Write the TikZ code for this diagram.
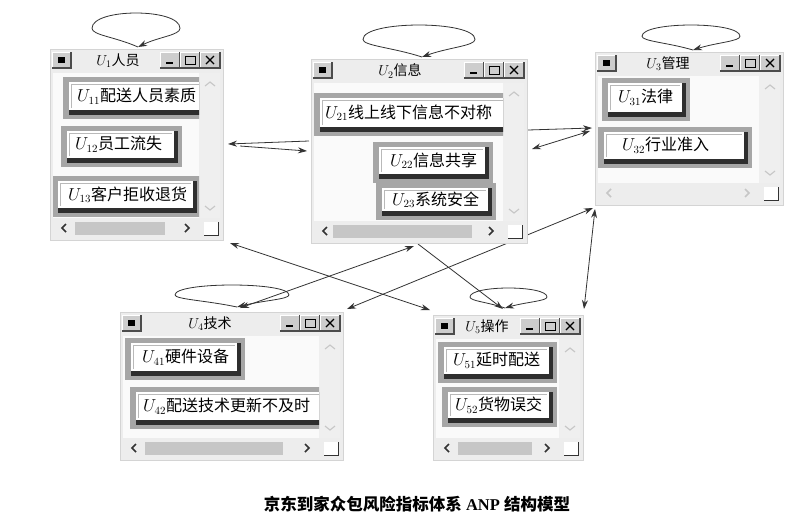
\documentclass[tikz,border=0pt]{standalone}
\usepackage{fontspec}
\setmainfont{Liberation Serif}
\newfontfamily\cjk{Noto Sans CJK SC}
\usetikzlibrary{arrows.meta,calc}
\definecolor{winbg}{HTML}{EDEDED}
\definecolor{winedge}{HTML}{D4D4D4}
\definecolor{contentbg}{HTML}{FAFAFA}
\definecolor{stripbg}{HTML}{EFEFEF}
\definecolor{thumbcol}{HTML}{C6C6C6}
\definecolor{btnframe}{HTML}{A6A6A6}
\definecolor{shadowcol}{HTML}{2E2E2E}
\definecolor{tbtncol}{HTML}{CDCDCD}
\definecolor{conncol}{HTML}{333333}
\tikzset{
  conn/.style={draw=conncol, line width=0.8pt},
  dbl/.style={conn, {Stealth[length=9pt,width=6pt]}-{Stealth[length=9pt,width=6pt]}},
  sgl/.style={conn, -{Stealth[length=9pt,width=6pt]}},
  btntext/.style={inner sep=0pt, anchor=west, font=\fontsize{16}{18}\selectfont},
  titletext/.style={inner sep=0pt, font=\fontsize{14}{16}\selectfont},
}
% 3D title-bar button
\newcommand\tbtn[4]{%
  \fill[tbtncol] (#1,#2) rectangle (#3,#4);
  \draw[white, line width=0.8pt] (#1,#4) -- (#1,#2) -- (#3,#2);
  \draw[black!70, line width=1.2pt] (#1,#4) -- (#3,#4) -- (#3,#2);}
% window: name x0 y0 x1 y1 titlecx title arrowcolour
\newcommand\mywin[8]{%
  \filldraw[draw=winedge, fill=winbg] (#2,#3) rectangle (#4,#5);
  \tbtn{#2+2}{#3+3}{#2+21}{#3+19}
  \fill[black] (#2+8,#3+8) rectangle (#2+15,#3+14);
  \node[titletext] (#1t) at (#6,#3+12) {#7};
  \tbtn{#4-63}{#3+3}{#4-43}{#3+19}
  \draw[black, line width=1.4pt] (#4-57,#3+14) -- (#4-50,#3+14);
  \tbtn{#4-43}{#3+3}{#4-23}{#3+19}
  \draw[black, line width=0.9pt] (#4-38,#3+7) rectangle (#4-28,#3+15);
  \tbtn{#4-23}{#3+3}{#4-3}{#3+19}
  \draw[black, line width=1.1pt] (#4-17,#3+7) -- (#4-9,#3+15) (#4-17,#3+15) -- (#4-9,#3+7);
  \fill[contentbg] (#2+3,#3+24) rectangle (#4-24,#5-22);
  \fill[stripbg] (#4-24,#3+24) rectangle (#4-3,#5-22);
  \draw[gray!45, line width=1.1pt] (#4-18,#3+37) -- (#4-13,#3+33) -- (#4-8,#3+37);
  \draw[gray!45, line width=1.1pt] (#4-18,#5-34) -- (#4-13,#5-30) -- (#4-8,#5-34);
  \draw[#8, line width=1.5pt] (#2+16,#5-16) -- (#2+12,#5-12) -- (#2+16,#5-8);
  \draw[#8, line width=1.5pt] (#4-38,#5-16) -- (#4-34,#5-12) -- (#4-38,#5-8);
  \fill[white] (#4-19,#5-18) rectangle (#4-5,#5-5);
  \draw[black!80, line width=1pt] (#4-19,#5-5) -- (#4-5,#5-5) -- (#4-5,#5-18);}
% element button: name ox0 oy0 ox1 oy1 textx label
\newcommand\mybtn[7]{%
  \fill[btnframe] (#2,#3) rectangle (#4,#5);
  \fill[shadowcol] (#2+6,#3+5) rectangle (#4-4,#5-4);
  \fill[white] (#2+6,#3+5) rectangle (#4-8,#5-9);
  \draw[gray!55, line width=0.7pt] (#2+8,#5-11) -- (#2+8,#3+7) -- (#4-10,#3+7);
  \node[btntext] (#1) at (#6,{(#3+#5-4)/2}) {#7};}
% self loop: name tipx tipy leftw rightw height
\newcommand\selfloop[6]{%
  \coordinate (#1) at (#2,#3);
  \coordinate (#1L) at (#2-#4,#3-0.55*#6);
  \coordinate (#1R) at (#2+#5,#3-0.55*#6);
  \draw[sgl] (#1) .. controls ($(#1)+(-0.5*#4,-0.3*#6)$) and ($(#1L)+(0,0.2*#6)$) .. (#1L)
    .. controls ($(#1L)+(0,-0.6*#6)$) and ($(#1R)+(0,-0.6*#6)$) .. (#1R)
    .. controls ($(#1R)+(0,0.2*#6)$) and ($(#1)+(0.5*#5,-0.3*#6)$) .. (#1);}
\begin{document}
\begin{tikzpicture}[x=1pt,y=-1pt]
\fill[white] (0,0) rectangle (800,515);
\useasboundingbox (0,0) rectangle (800,515);
% connector end points
\coordinate (a21) at (309,141); \coordinate (b21) at (228,144);
\coordinate (a12) at (240,146); \coordinate (b12) at (307,151);
\coordinate (a23) at (528,130); \coordinate (b23) at (592,128);
\coordinate (a32) at (590,131); \coordinate (b32) at (532,149);
\coordinate (a15) at (230,243); \coordinate (b15) at (430,310);
\coordinate (a24) at (414,246); \coordinate (b24) at (240,308);
\coordinate (a34) at (593,208); \coordinate (b34) at (347,309);
\coordinate (a25) at (418,244); \coordinate (b25) at (503,309);
\coordinate (a35) at (595,209); \coordinate (b35) at (584,309);
% connectors
\draw[sgl] (a21) -- (b21);
\draw[sgl] (a12) -- (b12);
\draw[sgl] (a23) -- (b23);
\draw[dbl] (a32) -- (b32);
\draw[dbl] (a15) -- (b15);
\draw[dbl] (a24) -- (b24);
\draw[dbl] (a34) -- (b34);
\draw[sgl] (a25) -- (b25);
\draw[dbl] (a35) -- (b35);
% self loops
\selfloop{l1}{138}{47}{46}{42}{34}
\selfloop{l2}{422}{57}{59}{53}{32}
\selfloop{l3}{693}{50}{51}{47}{25}
\selfloop{l4}{237}{307}{62}{52}{22}
\selfloop{l5}{505}{308}{35}{42}{20}
% window U1
\mywin{U1}{50}{49}{223}{240}{118}{$U_1$\cjk 人员}{black!80}
\fill[thumbcol] (75,222) rectangle (165,235);
\begin{scope}
\clip (53,73) rectangle (199,218);
\mybtn{u11}{63}{77}{215}{119}{77}{$U_{11}$\cjk 配送人员素质}
\mybtn{u12}{61}{126}{182}{167}{75}{$U_{12}$\cjk 员工流失}
\mybtn{u13}{52}{176}{201}{217}{68}{$U_{13}$\cjk 客户拒收退货}
\end{scope}
% window U2
\mywin{U2}{311}{59}{527}{243}{400}{$U_2$\cjk 信息}{black!80}
\fill[thumbcol] (333,225) rectangle (472,238);
\begin{scope}
\clip (314,83) rectangle (503,221);
\mybtn{u21}{314}{93}{520}{136}{325}{$U_{21}$\cjk 线上线下信息不对称}
\mybtn{u22}{373}{142}{493}{183}{390}{$U_{22}$\cjk 信息共享}
\mybtn{u23}{376}{183}{496}{220}{392}{$U_{23}$\cjk 系统安全}
\end{scope}
% window U3
\mywin{U3}{595}{52}{783}{205}{668}{$U_3$\cjk 管理}{gray!45}
\begin{scope}
\clip (598,76) rectangle (759,183);
\mybtn{u31}{602}{78}{690}{121}{618}{$U_{31}$\cjk 法律}
\mybtn{u32}{598}{127}{752}{168}{622}{$U_{32}$\cjk 行业准入}
\end{scope}
% window U4
\mywin{U4}{120}{312}{343}{460}{210}{$U_4$\cjk 技术}{black!80}
\fill[thumbcol] (145,442) rectangle (283,455);
\begin{scope}
\clip (123,336) rectangle (319,438);
\mybtn{u41}{125}{338}{245}{380}{142}{$U_{41}$\cjk 硬件设备}
\mybtn{u42}{130}{387}{335}{429}{143}{$U_{42}$\cjk 配送技术更新不及时}
\end{scope}
% window U5
\mywin{U5}{433}{315}{583}{460}{487}{$U_5$\cjk 操作}{black!80}
\fill[thumbcol] (458,442) rectangle (532,455);
\begin{scope}
\clip (436,339) rectangle (559,438);
\mybtn{u51}{438}{342}{557}{383}{453}{$U_{51}$\cjk 延时配送}
\mybtn{u52}{442}{387}{557}{427}{455}{$U_{52}$\cjk 货物误交}
\end{scope}
% caption
\node[inner sep=0pt, font=\fontsize{16.5}{18}\selectfont\bfseries] (cap) at (417,504)
  {{\cjk 京东到家众包风险指标体系} ANP {\cjk 结构模型}};
\end{tikzpicture}
\end{document}
